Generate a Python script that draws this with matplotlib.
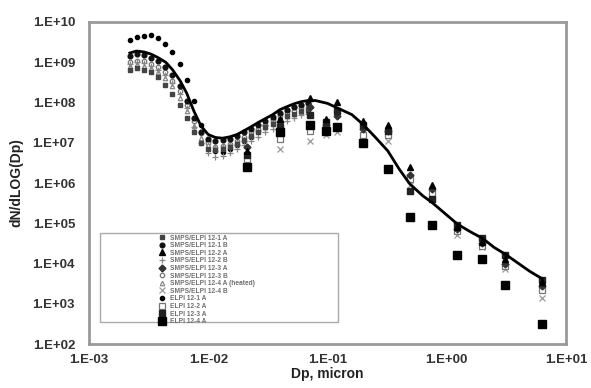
import matplotlib
matplotlib.use('Agg')
import matplotlib.pyplot as plt
from matplotlib.ticker import FixedLocator, FuncFormatter, NullLocator
from matplotlib.patches import Rectangle

plt.rcParams['font.family'] = ['Liberation Sans', 'DejaVu Sans']

# SMPS channel diameters (micron)
smps_dp = [0.00219, 0.00251, 0.00288, 0.00331, 0.00380, 0.00437, 0.00501, 0.00575,
           0.00661, 0.00759, 0.00871, 0.0100, 0.0115, 0.0132, 0.0151, 0.0174,
           0.0200, 0.0229, 0.0263, 0.0302, 0.0347, 0.0398, 0.0457, 0.0525,
           0.0603, 0.0692]

smps_a = [3.5e9, 4.2e9, 4.6e9, 4.7e9, 4.0e9, 2.8e9, 1.8e9, 8.9e8, 3.7e8, 1.1e8,
          2.8e7, 1.1e7, 6.3e6, 6.0e6, 7.1e6, 8.9e6, 1.1e7, 1.4e7, 2.0e7, 2.8e7,
          4.0e7, 5.2e7, 6.6e7, 7.9e7, 8.9e7, 9.5e7]
smps_b = [1.4e9, 1.6e9, 1.5e9, 1.3e9, 1.05e9, 7.6e8, 4.8e8, 2.5e8, 1.1e8, 4.2e7,
          1.9e7, 1.26e7, 1.12e7, 1.15e7, 1.26e7, 1.45e7, 1.8e7, 2.2e7, 2.8e7, 3.5e7,
          4.4e7, 5.4e7, 6.6e7, 7.9e7, 8.9e7, 9.5e7]
smps_c = [1.0e9, 1.1e9, 1.07e9, 9.3e8, 7.6e8, 5.6e8, 3.5e8, 1.9e8, 8.9e7, 3.5e7,
          1.7e7, 1.0e7, 7.9e6, 8.3e6, 9.5e6, 1.1e7, 1.4e7, 1.8e7, 2.2e7, 2.8e7,
          3.5e7, 4.5e7, 5.4e7, 6.3e7, 7.1e7, 7.6e7]
smps_d = [7.9e8, 8.9e8, 8.3e8, 7.1e8, 5.6e8, 4.0e8, 2.5e8, 1.3e8, 6.3e7, 2.6e7,
          1.3e7, 8.9e6, 7.6e6, 7.9e6, 8.9e6, 1.05e7, 1.26e7, 1.6e7, 2.0e7, 2.5e7,
          3.2e7, 3.8e7, 4.6e7, 5.2e7, 5.9e7, 6.3e7]
smps_e = [6.3e8, 7.1e8, 6.6e8, 5.6e8, 4.2e8, 2.8e8, 1.66e8, 8.9e7, 4.2e7, 1.9e7,
          1.0e7, 7.1e6, 6.6e6, 7.1e6, 7.9e6, 9.5e6, 1.2e7, 1.5e7, 1.9e7, 2.4e7,
          3.0e7, 3.7e7, 4.5e7, 5.2e7, 6.0e7, 6.6e7]
smps_f = [8.9e8, 1.0e9, 9.5e8, 8.3e8, 6.6e8, 4.8e8, 3.0e8, 1.6e8, 7.1e7, 2.5e7,
          1.0e7, 5.6e6, 4.5e6, 4.8e6, 5.6e6, 7.1e6, 8.9e6, 1.1e7, 1.4e7, 1.8e7,
          2.2e7, 2.8e7, 3.5e7, 4.2e7, 4.8e7, 5.2e7]

# ELPI stage diameters (micron)
elpi_dp = [0.021, 0.040, 0.071, 0.098, 0.12, 0.20, 0.32, 0.49, 0.75, 1.22, 1.98, 3.1, 6.3]

elpi_a = [2.5e6, 1.8e7, 2.8e7, 2.0e7, 2.5e7, 1.0e7, 2.2e6, 1.4e5, 8.9e4, 1.6e4, 1.26e4, 3.0e3, 3.2e2]
elpi_b = [5.0e6, 2.5e7, 5.0e7, 3.2e7, 6.3e7, 2.8e7, 2.0e7, 6.3e5, 4.0e5, 8.9e4, 4.2e4, 1.6e4, 4.0e3]
elpi_c = [6.3e6, 4.0e7, 1.26e8, 4.0e7, 1.0e8, 3.5e7, 2.8e7, 2.5e6, 8.9e5, 7.9e4, 3.5e4, 1.26e4, 3.5e3]
elpi_d = [4.0e6, 1.26e7, 2.0e7, 2.2e7, 2.5e7, 1.6e7, 1.6e7, 1.26e6, 5.6e5, 6.3e4, 2.8e4, 8.9e3, 2.2e3]
elpi_e = [3.5e6, 7.1e6, 1.1e7, 1.6e7, 1.8e7, 1.0e7, 1.1e7, 8.9e5, 5.0e5, 5.0e4, 2.5e4, 7.1e3, 1.4e3]
elpi_f = [7.9e6, 3.2e7, 7.9e7, 2.8e7, 4.5e7, 2.2e7, 2.0e7, 1.6e6, 7.1e5, 7.1e4, 3.2e4, 1.0e4, 2.8e3]

# fitted distribution
fit_dp = [0.0022, 0.0025, 0.0029, 0.0033, 0.0038, 0.0044, 0.0050, 0.0058, 0.0066,
          0.0076, 0.0087, 0.010, 0.0115, 0.0132, 0.0151, 0.0174, 0.020, 0.0229,
          0.0263, 0.0302, 0.0347, 0.0398, 0.0457, 0.0525, 0.0603, 0.0692, 0.079,
          0.10, 0.12, 0.16, 0.20, 0.25, 0.32, 0.40, 0.49, 0.63, 0.76, 1.0, 1.23,
          1.6, 2.0, 2.5, 3.1, 4.0, 5.0, 6.3]
fit_n = [1.7e9, 1.9e9, 1.8e9, 1.6e9, 1.3e9, 1.0e9, 6.6e8, 3.5e8, 1.7e8, 6.0e7,
         2.6e7, 1.6e7, 1.35e7, 1.3e7, 1.4e7, 1.6e7, 2.0e7, 2.5e7, 3.2e7, 4.0e7,
         5.0e7, 6.6e7, 7.9e7, 9.3e7, 1.05e8, 1.12e8, 1.12e8, 9.5e7, 7.4e7, 5.0e7,
         2.8e7, 1.4e7, 6.3e6, 2.2e6, 9.5e5, 4.8e5, 3.2e5, 1.6e5, 9.5e4, 6.0e4,
         4.2e4, 2.5e4, 1.7e4, 1.0e4, 6.3e3, 4.2e3]

labels = ['SMPS/ELPI 12-1 A', 'SMPS/ELPI 12-1 B', 'SMPS/ELPI 12-2 A', 'SMPS/ELPI 12-2 B',
          'SMPS/ELPI 12-3 A', 'SMPS/ELPI 12-3 B', 'SMPS/ELPI 12-4 A (heated)',
          'SMPS/ELPI 12-4 B', 'ELPI 12-1 A', 'ELPI 12-2 A', 'ELPI 12-3 A', 'ELPI 12-4 A']

fig = plt.figure(figsize=(5.91, 3.88), dpi=100)
ax = fig.add_axes([0.1506, 0.1134, 0.8071, 0.8299])

ax.plot(smps_dp, smps_a, 'o', color='black', ms=3, label=labels[8])
ax.plot(smps_dp, smps_c, 'o', mfc='white', mec='#777777', ms=3.2, mew=0.9, label=labels[5])
ax.plot(smps_dp, smps_d, '^', mfc='white', mec='#888888', ms=3.2, mew=0.9, label=labels[6])
ax.plot(smps_dp, smps_f, '+', color='#888888', ms=4, mew=0.9, label=labels[3])
ax.plot(smps_dp, smps_e, 's', color='#444444', ms=3.2, label=labels[0])
ax.plot(smps_dp, smps_b, 'o', color='#111111', ms=3.4, label=labels[1])

ax.plot(elpi_dp, elpi_e, 'x', color='#999999', ms=4, mew=0.9, label=labels[7])
ax.plot(elpi_dp, elpi_d, 's', mfc='white', mec='#777777', ms=4, mew=0.9, label=labels[9])
ax.plot(elpi_dp, elpi_f, 'D', color='#333333', ms=3.5, label=labels[4])
ax.plot(elpi_dp, elpi_b, 's', color='#222222', ms=4.5, label=labels[10])
ax.plot(elpi_dp, elpi_c, '^', color='black', ms=4.5, label=labels[2])
ax.plot(elpi_dp, elpi_a, 's', color='black', ms=5.5, label=labels[11])

ax.plot(fit_dp, fit_n, '-', color='black', lw=2, zorder=5)

ax.set_xscale('log')
ax.set_yscale('log')
ax.set_xlim(1e-3, 1e1)
ax.set_ylim(1e2, 1e10)

xt = [1e-3, 1e-2, 1e-1, 1e0, 1e1]
yt = [1e2, 1e3, 1e4, 1e5, 1e6, 1e7, 1e8, 1e9, 1e10]
ax.xaxis.set_major_locator(FixedLocator(xt))
ax.yaxis.set_major_locator(FixedLocator(yt))
ax.xaxis.set_minor_locator(NullLocator())
ax.yaxis.set_minor_locator(NullLocator())

def sci_fmt(v, pos):
    import math
    e = int(round(math.log10(v)))
    return '1.E%+03d' % e

ax.xaxis.set_major_formatter(FuncFormatter(sci_fmt))
ax.yaxis.set_major_formatter(FuncFormatter(sci_fmt))
ax.tick_params(length=0, labelsize=9.5, colors='#333333')
ax.tick_params(axis='y', pad=10)
ax.tick_params(axis='x', pad=7)
for lab in ax.get_xticklabels() + ax.get_yticklabels():
    lab.set_fontweight('bold')

for s in ax.spines.values():
    s.set_color('#999999')
    s.set_linewidth(2)

ax.set_xlabel('Dp, micron', fontsize=10, fontweight='bold', color='#222222', labelpad=1)
ax.set_ylabel('dN/dLOG(Dp)', fontsize=10, fontweight='bold', color='#222222', labelpad=0)
ax.yaxis.set_label_coords(-0.138, 0.5)

# legend with a larger frame
ax.add_patch(Rectangle((0.023, 0.068), 0.499, 0.277, transform=ax.transAxes,
                       fill=True, facecolor='white', edgecolor='#aaaaaa', lw=1, zorder=6))
handles, labs = ax.get_legend_handles_labels()
order = sorted(range(len(labs)), key=lambda i: labels.index(labs[i]))
leg = ax.legend([handles[i] for i in order], [labs[i] for i in order],
                loc='upper left', bbox_to_anchor=(0.145, 0.342), frameon=False,
                fontsize=4.8, labelspacing=0.09, handlelength=0.9, handletextpad=0.7,
                borderpad=0.1, borderaxespad=0, markerscale=1.0)
leg.set_zorder(7)
for t in leg.get_texts():
    t.set_color('#707070')
    t.set_fontweight('bold')

fig.savefig('out.png', dpi=100)
